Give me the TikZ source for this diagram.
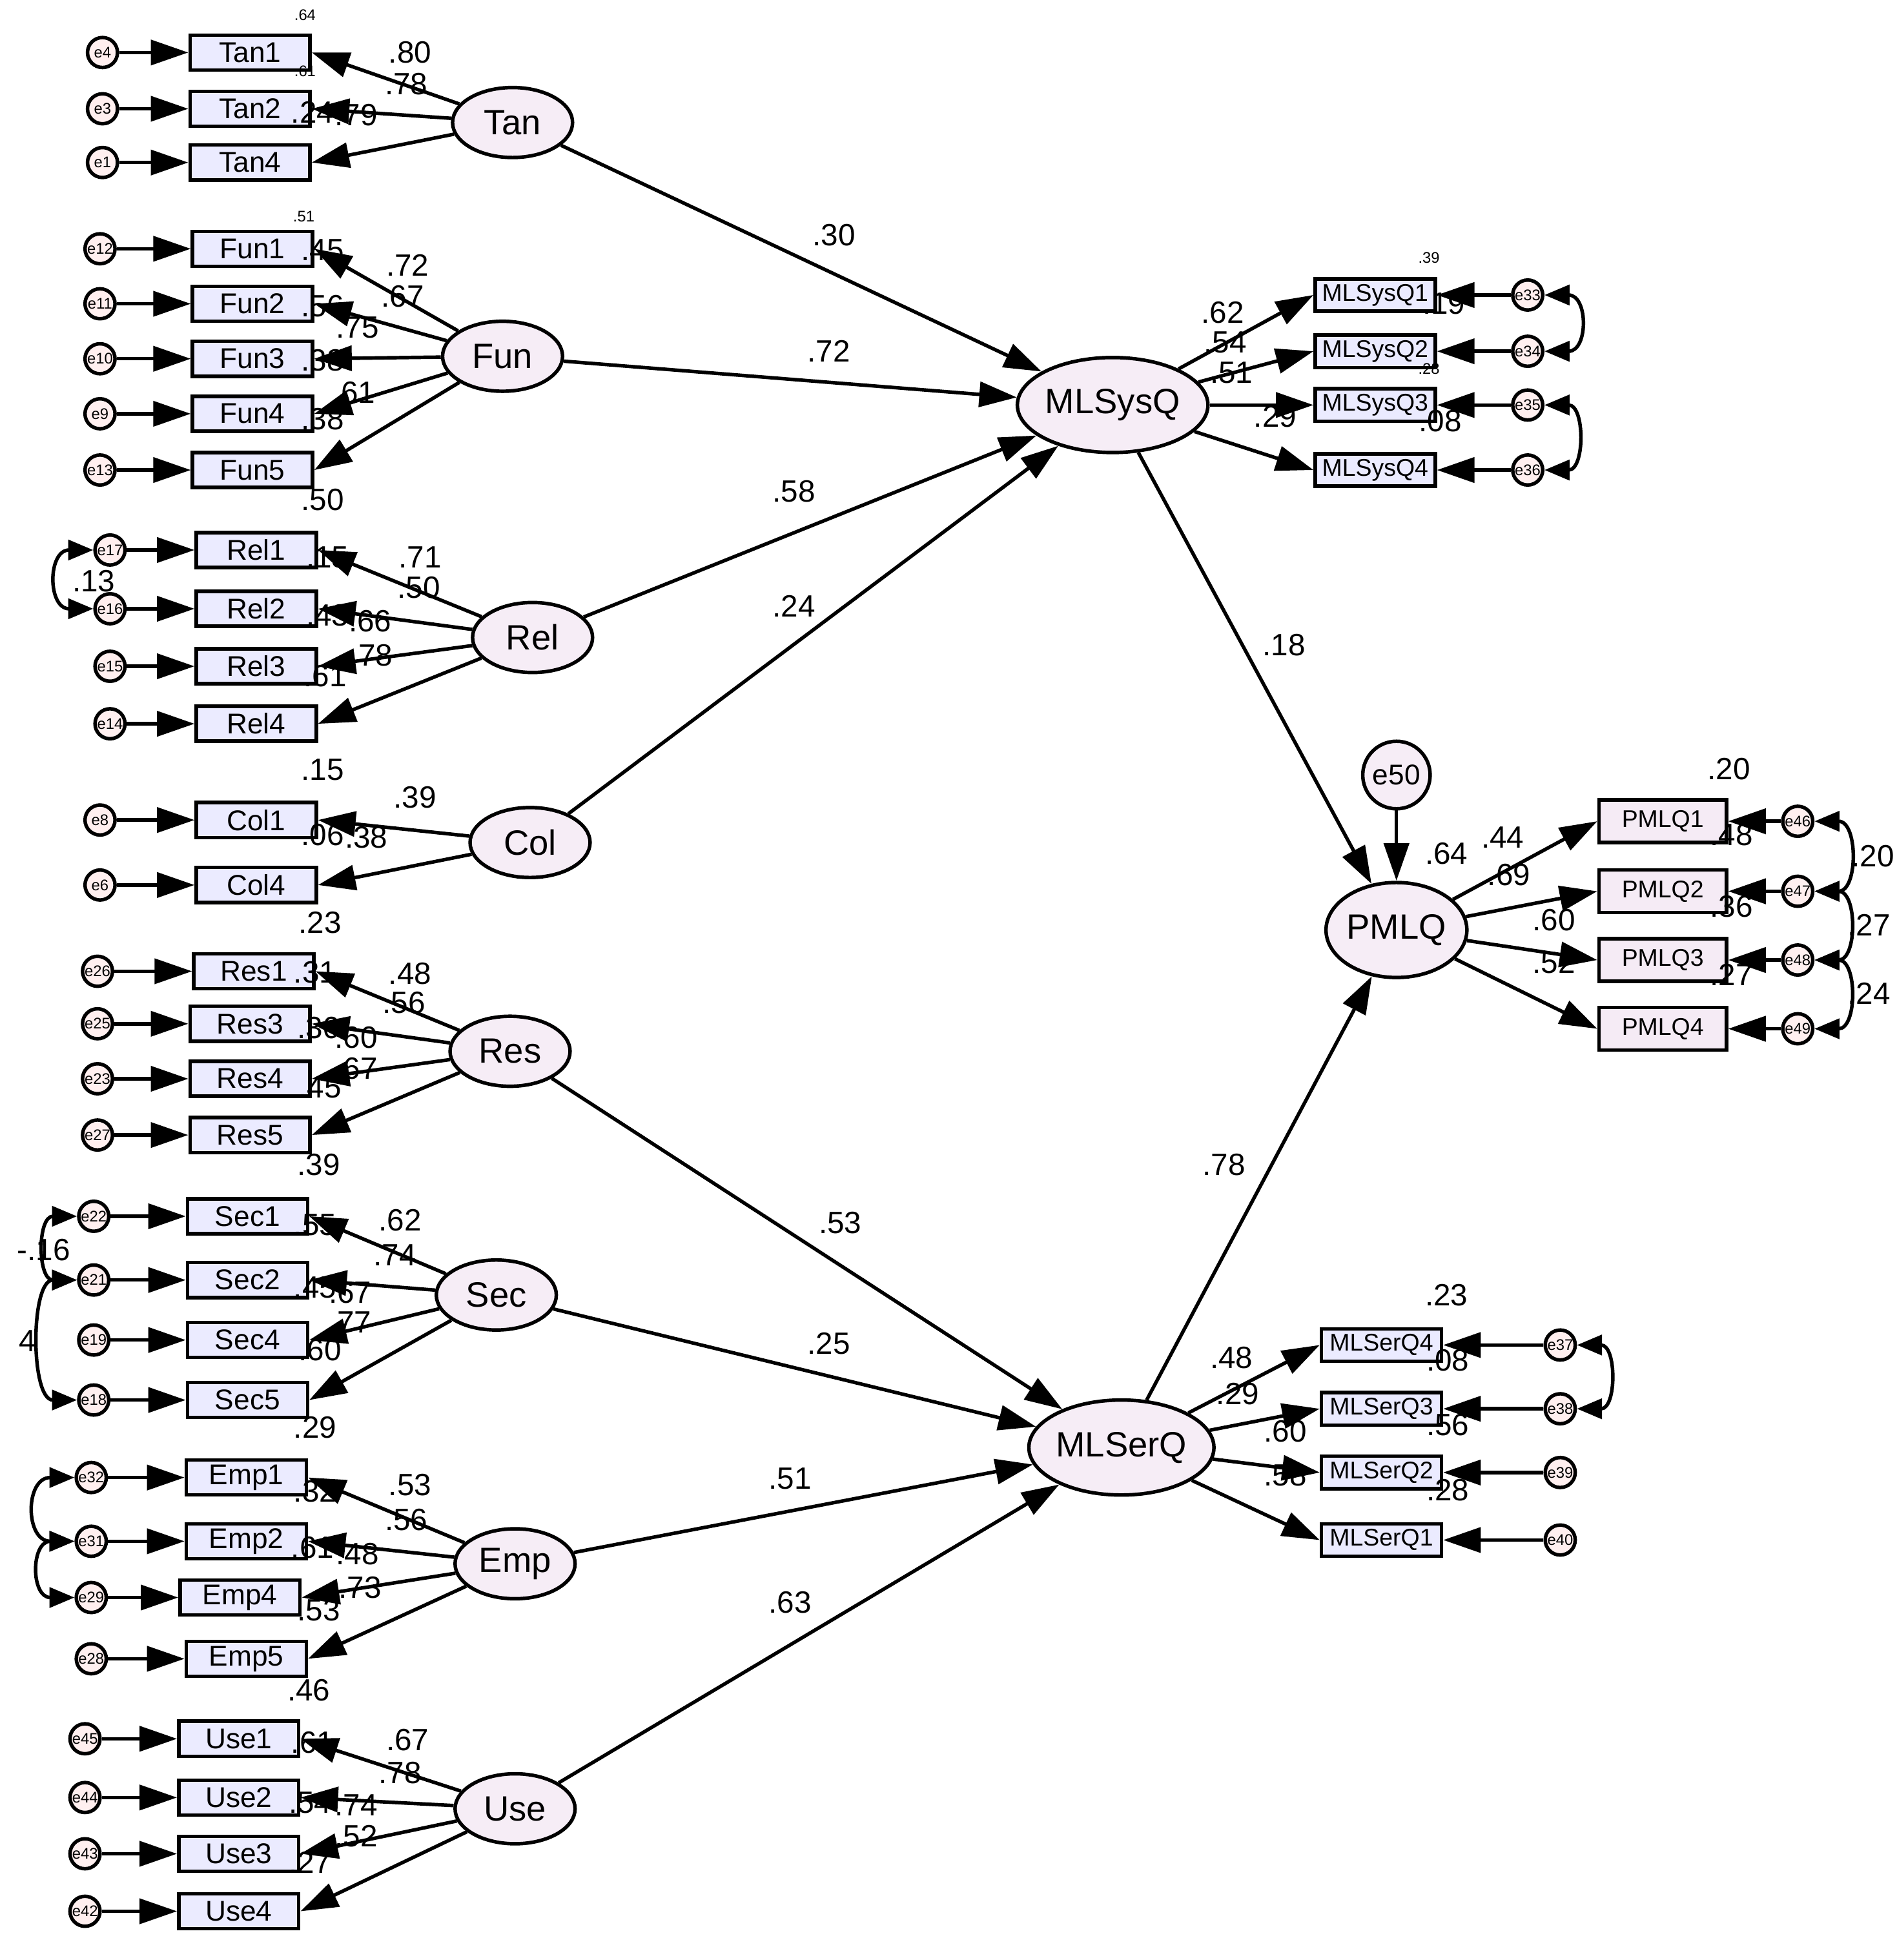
\documentclass[tikz,border=0pt]{standalone}
\usepackage{fontspec}
\setmainfont{Liberation Sans}
\usetikzlibrary{arrows.meta,shapes.geometric}
\begin{document}
\begin{tikzpicture}[x=0.1mm,y=-0.1mm,
 lat/.style={ellipse,draw,thick,fill=pink!15!violet!8,minimum width=9.6mm,minimum height=5.6mm,inner sep=0pt,font=\fontsize{8}{9}\selectfont},
 obs/.style={rectangle,draw,thick,fill=blue!8,minimum width=9.6mm,minimum height=2.8mm,inner sep=0pt,font=\fontsize{6.5}{7}\selectfont},
 err/.style={circle,draw,thick,fill=pink!25,minimum size=2.4mm,inner sep=0pt,font=\fontsize{3.5}{4}\selectfont},
 arr/.style={-{Triangle[length=3mm,width=2mm]},thick},
 cov/.style={{Triangle[length=2mm,width=1.6mm]}-{Triangle[length=2mm,width=1.6mm]},thick},
 lab/.style={font=\fontsize{7}{8}\selectfont,inner sep=0pt},
 tl/.style={font=\fontsize{3.5}{4}\selectfont,inner sep=0pt}]
\useasboundingbox (0,0) rectangle (1517,1568);
% latents
\node[lat] (Tan) at (410,98) {Tan};
\node[lat] (Fun) at (402,285) {Fun};
\node[lat] (Rel) at (426,510) {Rel};
\node[lat] (Col) at (424,674) {Col};
\node[lat] (Res) at (408,841) {Res};
\node[lat] (Sec) at (397,1036) {Sec};
\node[lat] (Emp) at (412,1251) {Emp};
\node[lat] (Use) at (412,1447) {Use};
\node[lat,minimum width=12mm,minimum height=7.6mm] (MLSysQ) at (890,324) {MLSysQ};
\node[lat,minimum width=12mm,minimum height=7.6mm] (MLSerQ) at (897,1158) {MLSerQ};
\node[lat,minimum width=11mm,minimum height=7.6mm] (PMLQ) at (1117,744) {PMLQ};
\node[lat,minimum width=5.2mm,minimum height=5.4mm,font=\fontsize{6.5}{7}\selectfont] (e50) at (1117,620) {e50};
% left indicators: name/x/y/err/ex/lat
\foreach \n/\x/\y/\e/\ex/\l in {Tan1/200/42/e4/82/Tan,Tan2/200/87/e3/82/Tan,Tan4/200/130/e1/82/Tan,
 Fun1/202/199/e12/80/Fun,Fun2/202/243/e11/80/Fun,Fun3/202/287/e10/80/Fun,Fun4/202/331/e9/80/Fun,Fun5/202/376/e13/80/Fun,
 Rel1/205/440/e17/88/Rel,Rel2/205/487/e16/88/Rel,Rel3/205/533/e15/88/Rel,Rel4/205/579/e14/88/Rel,
 Col1/205/656/e8/80/Col,Col4/205/708/e6/80/Col,
 Res1/203/777/e26/78/Res,Res3/200/819/e25/78/Res,Res4/200/863/e23/78/Res,Res5/200/908/e27/78/Res,
 Sec1/198/973/e22/75/Sec,Sec2/198/1024/e21/75/Sec,Sec4/198/1072/e19/75/Sec,Sec5/198/1120/e18/75/Sec,
 Emp1/197/1182/e32/73/Emp,Emp2/197/1233/e31/73/Emp,Emp4/192/1278/e29/73/Emp,Emp5/197/1327/e28/73/Emp,
 Use1/191/1391/e45/68/Use,Use2/191/1438/e44/68/Use,Use3/191/1483/e43/68/Use,Use4/191/1529/e42/68/Use}{
 \node[obs] (\n) at (\x,\y) {\n};
 \node[err] (\e) at (\ex,\y) {\e};
 \draw[arr] (\e) -- (\n);
 \draw[arr] (\l) -- (\n.east);
}
% right indicators
\foreach \n/\x/\y/\e/\ex/\l in {MLSysQ1/1100/236/e33/1222/MLSysQ,MLSysQ2/1100/281/e34/1222/MLSysQ,MLSysQ3/1100/324/e35/1222/MLSysQ,MLSysQ4/1100/376/e36/1222/MLSysQ,
 MLSerQ4/1105/1076/e37/1248/MLSerQ,MLSerQ3/1105/1127/e38/1248/MLSerQ,MLSerQ2/1105/1178/e39/1248/MLSerQ,MLSerQ1/1105/1232/e40/1248/MLSerQ}{
 \node[obs,font=\fontsize{5.5}{6}\selectfont,minimum width=9.6mm,minimum height=2.6mm] (\n) at (\x,\y) {\n};
 \node[err] (\e) at (\ex,\y) {\e};
 \draw[arr] (\e) -- (\n);
 \draw[arr] (\l) -- (\n.west);
}
\foreach \n/\y/\e in {PMLQ1/657/e46,PMLQ2/713/e47,PMLQ3/768/e48,PMLQ4/823/e49}{
 \node[obs,font=\fontsize{5.5}{6}\selectfont,minimum width=10.2mm,minimum height=3.4mm,fill=violet!8] (\n) at (1330,\y) {\n};
 \node[err] (\e) at (1438,\y) {\e};
 \draw[arr] (\e) -- (\n);
 \draw[arr] (PMLQ) -- (\n.west);
}
% structural paths
\foreach \a/\b in {Tan/MLSysQ,Fun/MLSysQ,Rel/MLSysQ,Col/MLSysQ,Res/MLSerQ,Sec/MLSerQ,Emp/MLSerQ,Use/MLSerQ,MLSysQ/PMLQ,MLSerQ/PMLQ,e50/PMLQ}
 \draw[arr] (\a) -- (\b);
% covariances
\draw[cov] (e46.east) to[out=0,in=0,looseness=1.6] (e47.east);
\draw[cov] (e47.east) to[out=0,in=0,looseness=1.6] (e48.east);
\draw[cov] (e48.east) to[out=0,in=0,looseness=1.6] (e49.east);
\draw[cov] (e33.east) to[out=0,in=0,looseness=2] (e34.east);
\draw[cov] (e35.east) to[out=0,in=0,looseness=1.6] (e36.east);
\draw[cov] (e37.east) to[out=0,in=0,looseness=1.6] (e38.east);
\draw[cov] (e17.west) to[out=180,in=180,looseness=2] (e16.west);
\draw[cov] (e22.west) to[out=180,in=180,looseness=1.6] (e21.west);
\draw[cov] (e21.west) to[out=180,in=180,looseness=1] (e18.west);
\draw[cov] (e32.west) to[out=180,in=180,looseness=2] (e31.west);
\draw[cov] (e31.west) to[out=180,in=180,looseness=2] (e29.west);
% labels
\foreach \t/\x/\y in {.30/667/188,.72/663/281,.58/635/393,.24/635/485,.18/1027/516,.53/672/978,.25/663/1075,.51/632/1183,.63/632/1282,.78/979/932,
 .80/328/42,.78/325/67,.24/250/90,.79/285/92,
 .45/258/200,.72/326/212,.67/322/237,.56/258/245,.75/286/262,.38/258/288,.61/283/314,.38/258/335,
 .50/258/400,.71/336/446,.50/335/470,.15/262/446,.43/262/492,.66/296/497,.78/297/524,.61/260/541,.13/75/465,
 .15/258/616,.39/332/638,.06/258/668,.38/293/670,
 .23/256/738,.48/328/779,.56/323/802,.31/252/778,.30/255/822,.60/285/830,.67/285/855,.45/256/870,
 .39/255/932,.62/320/976,.74/316/1004,.55/252/980,.45/252/1030,.67/280/1034,.77/280/1058,.60/256/1080,-.16/35/1000,4/22/1073,
 .29/252/1142,.53/328/1188,.56/325/1216,.32/252/1193,.61/250/1238,.48/286/1243,.73/288/1270,.53/255/1288,
 .46/247/1352,.67/326/1392,.78/320/1418,.61/250/1394,.54/248/1442,.74/285/1444,.52/285/1469,.27/248/1490,
 .62/978/250,.54/980/274,.51/985/298,.29/1020/333,.19/1155/243,.08/1152/337,
 .64/1157/683,.44/1202/670,.69/1207/700,.60/1243/736,.52/1243/770,.20/1383/615,.48/1385/668,.36/1385/725,.27/1385/780,.20/1498/685,.27/1495/740,.24/1495/795,
 .23/1157/1036,.48/985/1086,.29/990/1115,.60/1028/1145,.58/1028/1180,.08/1158/1088,.56/1158/1140,.28/1158/1192}
 \node[lab] at (\x,\y) {\t};
\foreach \t/\x/\y in {.64/244/12,.61/244/57,.51/243/173,.39/1143/206,.28/1143/295}
 \node[tl] at (\x,\y) {\t};
\end{tikzpicture}
\end{document}
